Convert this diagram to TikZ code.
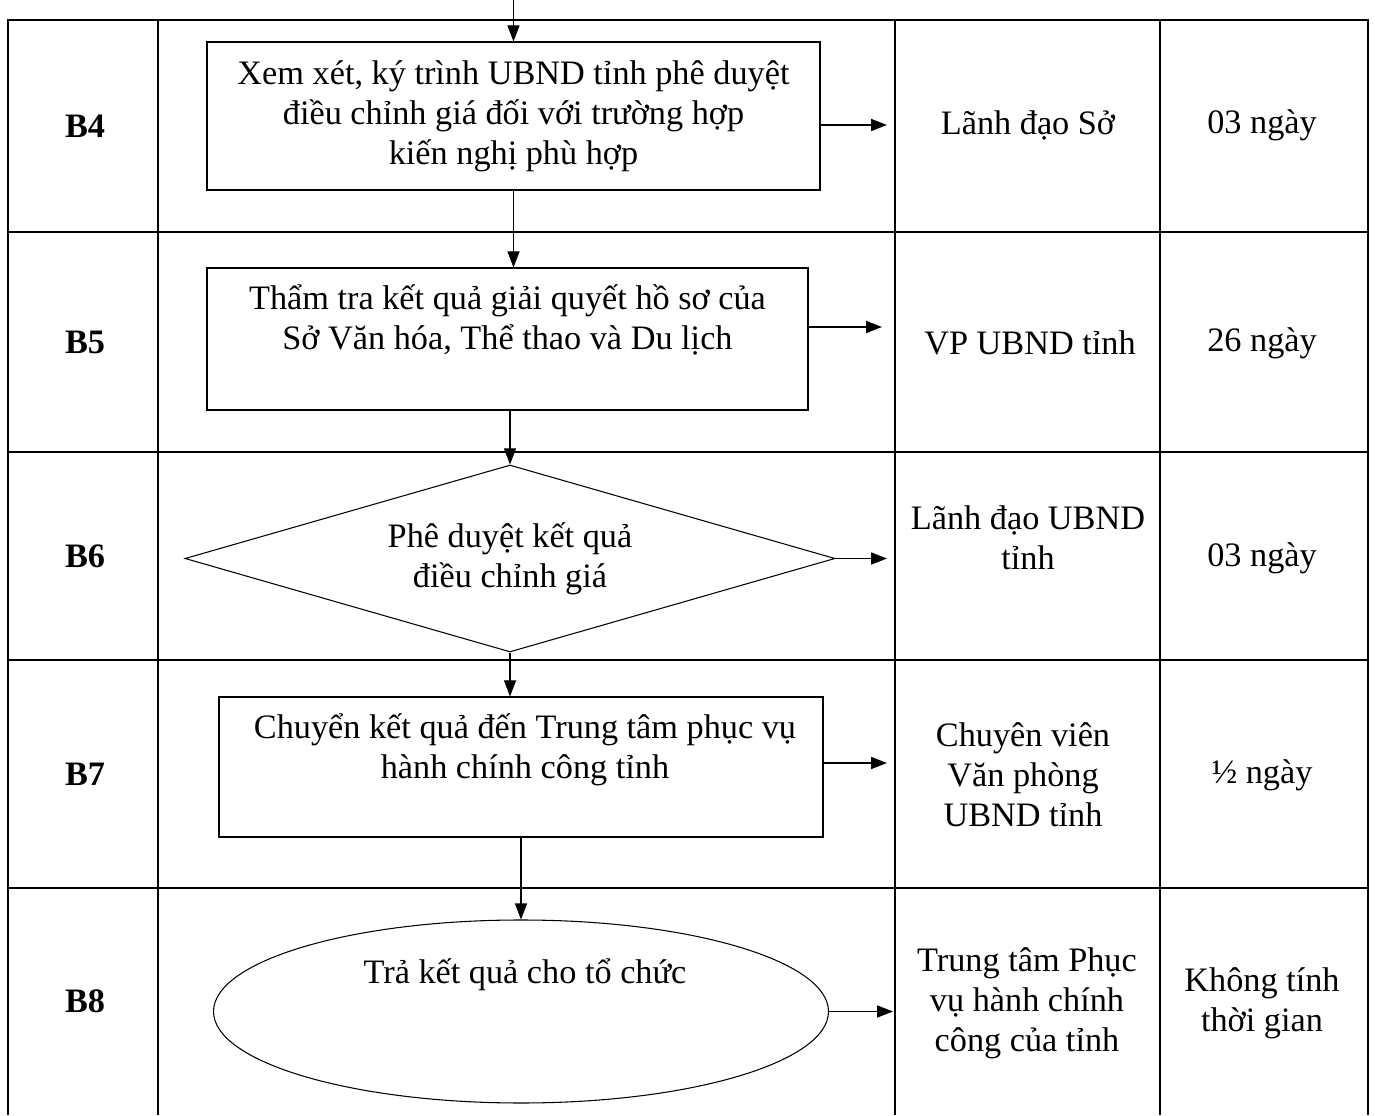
\documentclass[tikz,border=0pt]{standalone}
\usepackage{fontspec}
\setmainfont{Liberation Serif}
\usetikzlibrary{shapes.geometric, arrows.meta}
\newcommand{\flowfont}{\fontsize{19.5}{22.8}\selectfont}
\tikzset{
    grid/.style={line width=1.1pt},
    stepbox/.style={draw, line width=0.6pt, inner sep=0pt},
    flow/.style={-{Triangle[length=0.32cm, width=0.24cm]}, line width=0.6pt},
    side/.style={-{Triangle[length=0.32cm, width=0.24cm]}, line width=1pt},
    txt/.style={align=center, font=\flowfont}
}

\begin{document}
\begin{tikzpicture}
    \useasboundingbox (0,0) rectangle (27.5,22.3);
    \draw[grid] (0.16,0) -- (0.16,21.9) -- (27.36,21.9) -- (27.36,0);
    \foreach \x in {3.16,17.9,23.2} \draw[grid] (\x,0) -- (\x,21.9);
    \foreach \y in {17.66,13.26,9.1,4.54} \draw[grid] (0.16,\y) -- (27.36,\y);
    \foreach \n/\y in {4/19.78,5/15.46,6/11.18,7/6.82,8/2.28}
        \node[txt, font=\flowfont\bfseries] (s\n) at (1.7,\y) {B\n};

    \node[stepbox, txt, minimum width=12.26cm, minimum height=2.96cm] (b4) at (10.27,19.98)
        {Xem xét, ký trình UBND tỉnh phê duyệt\\điều chỉnh giá đối với trường hợp\\kiến nghị phù hợp};
    \node[stepbox, minimum width=12.02cm, minimum height=2.84cm] (b5) at (10.15,15.52) {};
    \node[txt] (t5) at (10.15,15.9) {Thẩm tra kết quả giải quyết hồ sơ của\\Sở Văn hóa, Thể thao và Du lịch};
    \node[stepbox, txt, diamond, aspect=3.5, minimum width=13cm, minimum height=3.74cm] (b6) at (10.2,11.13)
        {Phê duyệt kết quả\\điều chỉnh giá};
    \node[stepbox, minimum width=12.08cm, minimum height=2.8cm] (b7) at (10.42,6.96) {};
    \node[txt] (t7) at (10.5,7.3) {Chuyển kết quả đến Trung tâm phục vụ\\hành chính công tỉnh};
    \node[stepbox, ellipse, minimum width=12.3cm, minimum height=3.66cm] (b8) at (10.42,2.07) {};
    \node[txt] (t8) at (10.5,2.8) {Trả kết quả cho tổ chức};

    \node[txt] (w4) at (20.56,19.8) {Lãnh đạo Sở};
    \node[txt] (w5) at (20.6,15.44) {VP UBND tỉnh};
    \node[txt] (w6) at (20.56,11.54) {Lãnh đạo UBND\\tỉnh};
    \node[txt] (w7) at (20.46,6.8) {Chuyên viên\\Văn phòng\\UBND tỉnh};
    \node[txt] (w8) at (20.54,2.24) {Trung tâm Phục\\vụ hành chính\\công của tỉnh};

    \node[txt] (d4) at (25.24,19.8) {03 ngày};
    \node[txt] (d5) at (25.24,15.44) {26 ngày};
    \node[txt] (d6) at (25.24,11.14) {03 ngày};
    \node[txt] (d7) at (25.24,6.8) {½ ngày};
    \node[txt] (d8) at (25.24,2.24) {Không tính\\thời gian};

    \coordinate (in) at (10.27,22.3);
    \coordinate (e4) at (17.74,19.8);
    \coordinate (e5) at (17.64,15.76);
    \coordinate (e6) at (17.74,11.13);
    \coordinate (e7) at (17.74,7.04);
    \coordinate (e8) at (17.86,2.07);

    \draw[flow] (in) -- (b4.north);
    \draw[flow] (b4.south) -- (b4.south |- b5.north);
    \draw[flow] (b6.north |- b5.south) -- (b6.north);
    \draw[flow] (b6.south) -- (b6.south |- b7.north);
    \draw[flow] (b7.south) -- (b8.north);

    \draw[side] (b4.east |- e4) -- (e4);
    \draw[side] (b5.east |- e5) -- (e5);
    \draw[side] (b6.east) -- (e6);
    \draw[side] (b7.east |- e7) -- (e7);
    \draw[side] (b8.east) -- (e8);
\end{tikzpicture}
\end{document}
